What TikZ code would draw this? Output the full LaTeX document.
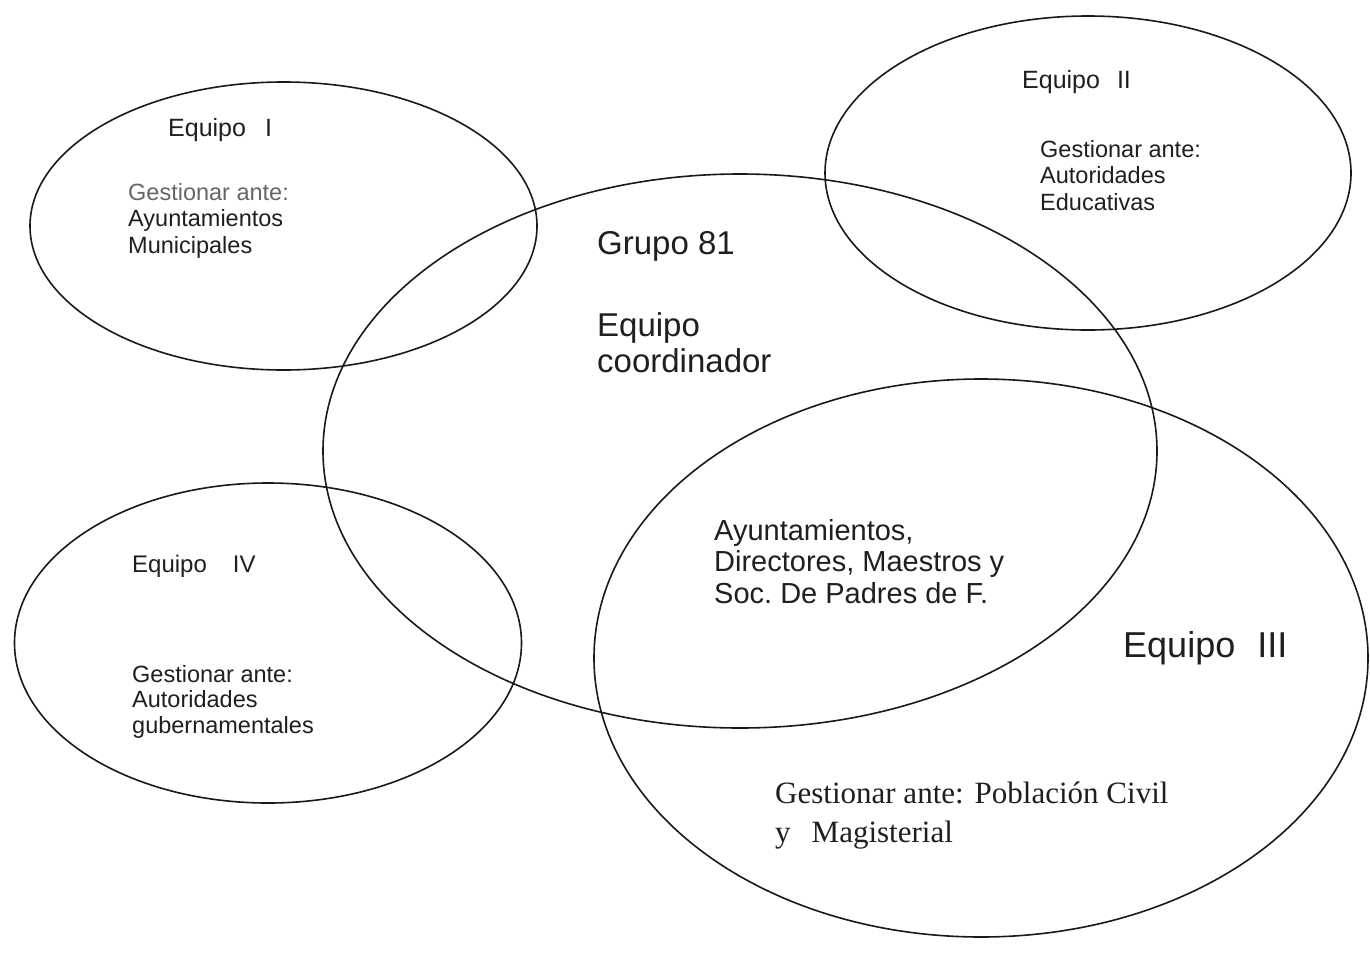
\documentclass[tikz,border=0pt]{standalone}
\usepackage{fontspec}
\setmainfont{Liberation Sans}
\newfontfamily\timesfam{Liberation Serif}
\usetikzlibrary{shapes.geometric}
\tikzset{
  team/.style={draw=black!90, ellipse, line width=1.6pt, inner sep=0pt},
  lbl/.style={anchor=base west, align=left, inner sep=0pt, text=black!88},
}
\newcommand{\fs}[2]{\fontsize{#1}{#2}\selectfont}
\frenchspacing
\begin{document}
\begin{tikzpicture}[x=1pt,y=-1pt]
\useasboundingbox (0,0) rectangle (1370,964);
\fill[white] (0,0) rectangle (1370,964);
% ellipses
\node[team, minimum width=834pt, minimum height=554pt] (e0) at (740,451) {};
\node[team, minimum width=507pt, minimum height=288pt] (e1) at (283.5,226) {};
\node[team, minimum width=526pt, minimum height=314pt] (e2) at (1088,173) {};
\node[team, minimum width=774pt, minimum height=558pt] (e3) at (981,658) {};
\node[team, minimum width=507pt, minimum height=320pt] (e4) at (268,643) {};
% texts (base anchor = baseline of the last line)
\node[lbl, font=\fs{25}{28}] (t1a) at (168,136) {Equipo\hspace{19pt}I};
\node[lbl, font=\fs{23.5}{26.5}] (t1b) at (128,253) {\textcolor{black!60}{Gestionar ante:}\\Ayuntamientos\\Municipales};
\node[lbl, font=\fs{25}{28}] (t2a) at (1022,88) {Equipo\hspace{17pt}II};
\node[lbl, font=\fs{23.5}{26.5}] (t2b) at (1040,210) {Gestionar ante:\\Autoridades\\Educativas};
\node[lbl, font=\fs{33}{36}] (t0a) at (597,254) {Grupo 81};
\node[lbl, font=\fs{33}{36}] (t0b) at (597,372) {Equipo\\coordinador};
\node[lbl, font=\fs{29}{31.5}] (t3a) at (714,603) {Ayuntamientos,\\Directores, Maestros y\\Soc. De Padres de F.};
\node[lbl, font=\fs{36}{40}] (t3b) at (1123,657) {Equipo\hspace{22pt}III};
\node[lbl, font=\timesfam\fs{31}{39}] (t3c) at (775,842) {Gestionar ante:\hspace{11pt}Población Civil\\y\hspace{21pt}Magisterial};
\node[lbl, font=\fs{24}{27}] (t4a) at (132,572) {Equipo\hspace{26pt}IV};
\node[lbl, font=\fs{23.5}{25.5}] (t4b) at (132,733) {Gestionar ante:\\Autoridades\\gubernamentales};
\end{tikzpicture}
\end{document}
